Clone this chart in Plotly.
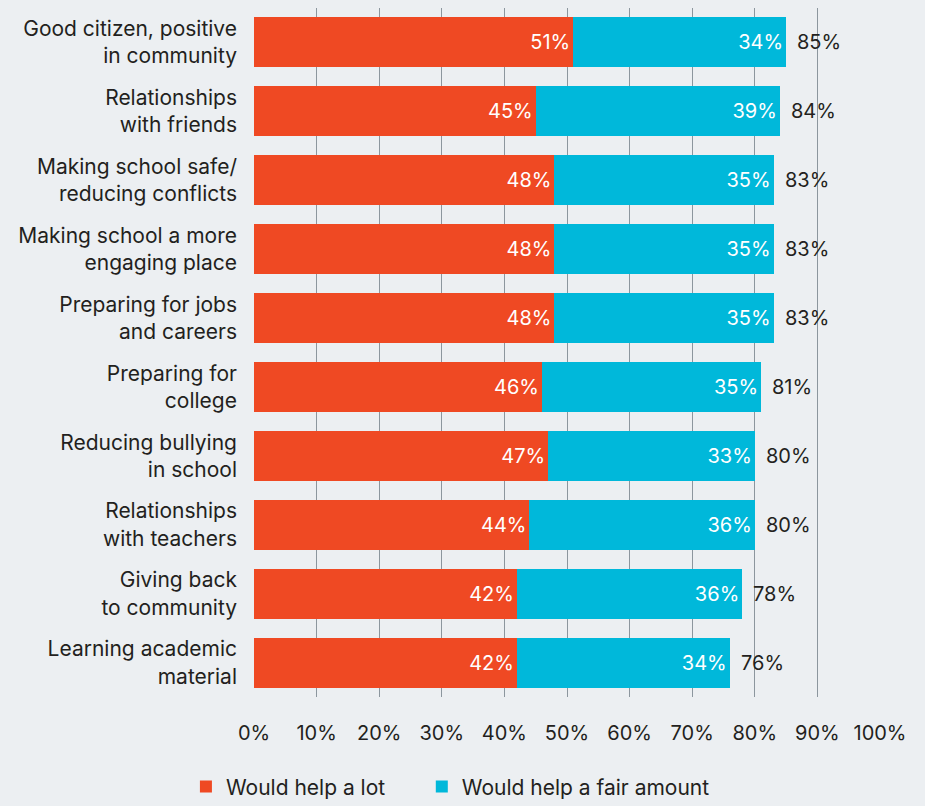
import plotly.graph_objects as go

categories = [
    "Good citizen, positive<br>in community",
    "Relationships<br>with friends",
    "Making school safe/<br>reducing conflicts",
    "Making school a more<br>engaging place",
    "Preparing for jobs<br>and careers",
    "Preparing for<br>college",
    "Reducing bullying<br>in school",
    "Relationships<br>with teachers",
    "Giving back<br>to community",
    "Learning academic<br>material",
]
help_a_lot = [51, 45, 48, 48, 48, 46, 47, 44, 42, 42]
help_fair = [34, 39, 35, 35, 35, 35, 33, 36, 36, 34]
totals = [85, 84, 83, 83, 83, 81, 80, 80, 78, 76]
tick_vals = [0, 10, 20, 30, 40, 50, 60, 70, 80, 90, 100]
tick_text = ["0%", "10%", "20%", "30%", "40%", "50%", "60%", "70%", "80%", "90%", "100%"]

RED = "#EF4923"
BLUE = "#00B8DA"
BG = "#ECEFF2"
TXT = "#231F20"
FONT = "Inter"
FS = 20
FS_CAT = 21

fig = go.Figure()
fig.add_trace(go.Bar(
    y=categories, x=help_a_lot, orientation="h", name="Would help a lot",
    marker=dict(color=RED, line=dict(width=0)), legend="legend", showlegend=True,
    text=[f"{v}%" for v in help_a_lot], textposition="inside", insidetextanchor="end",
    textfont=dict(color="white", size=FS, family=FONT), width=0.725,
))
fig.add_trace(go.Bar(
    y=categories, x=help_fair, orientation="h", name="Would help a fair amount",
    marker=dict(color=BLUE, line=dict(width=0)), legend="legend2", showlegend=True,
    text=[f"{v}%" for v in help_fair], textposition="inside", insidetextanchor="end",
    textfont=dict(color="white", size=FS, family=FONT), width=0.725,
))
for cat, tot in zip(categories, totals):
    fig.add_annotation(
        x=tot, y=cat, text=f"{tot}%", showarrow=False, xanchor="left",
        xshift=9, font=dict(color=TXT, size=FS, family=FONT),
    )

leg_common = dict(
    orientation="h", y=-0.16, yanchor="bottom", xref="container", xanchor="left",
    font=dict(size=FS_CAT, color=TXT), bgcolor="rgba(0,0,0,0)", itemwidth=30,
)

fig.update_layout(
    width=925, height=806,
    showlegend=True,
    barmode="stack",
    paper_bgcolor=BG, plot_bgcolor=BG,
    margin=dict(l=254, r=45, t=8, b=109, autoexpand=False),
    font=dict(family=FONT, color=TXT, size=FS),
    xaxis=dict(
        range=[0, 100], tickvals=tick_vals, ticktext=tick_text,
        showgrid=True, gridcolor="#8C969E", gridwidth=1.4,
        zeroline=False, showline=False, ticks="",
        ticklabelstandoff=22, tickfont=dict(size=FS, color=TXT),
    ),
    yaxis=dict(
        autorange="reversed", showgrid=False, zeroline=False, showline=False,
        ticks="", ticklabelstandoff=16, tickfont=dict(size=FS_CAT, color=TXT),
    ),
    legend=dict(x=0.201, **leg_common),
    legend2=dict(x=0.456, **leg_common),
    bargap=0.275,
)

fig.write_html(
    "out.html",
    config={"displayModeBar": False},
    post_script="document.body.style.margin='0';document.body.style.background='#ECEFF2';",
)
